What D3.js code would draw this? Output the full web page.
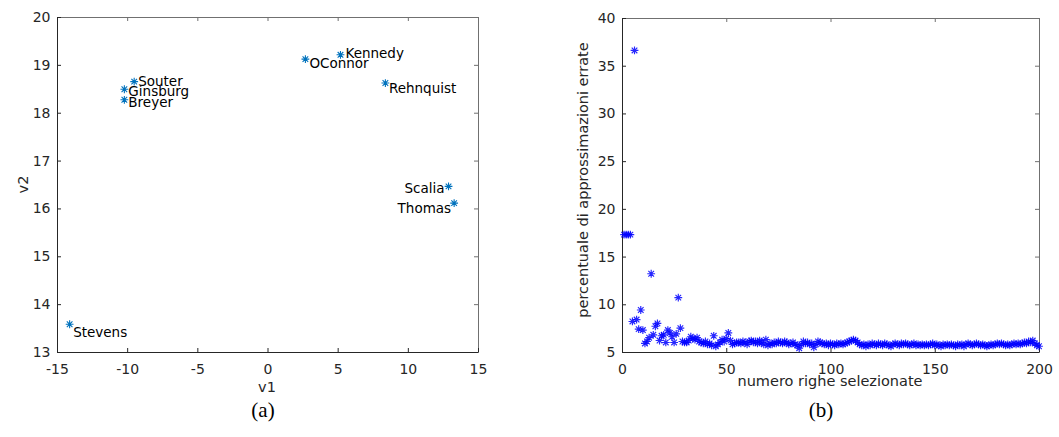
<!DOCTYPE html>
<html>
<head>
<meta charset="utf-8">
<script src="https://cdn.jsdelivr.net/npm/d3@7"></script>
<style>
  body { margin: 0; background: #fff; }
  svg { display: block; }
</style>
</head>
<body>
<div id="chart"></div>
<script>
// (a) MDS of the justices
const justices = ["Souter", "Ginsburg", "Breyer", "OConnor", "Kennedy", "Rehnquist", "Scalia", "Thomas", "Stevens"];
const v1 = [-9.5, -10.2, -10.2, 2.7, 5.2, 8.4, 12.9, 13.3, -14.1];
const v2 = [18.65, 18.49, 18.27, 19.12, 19.21, 18.62, 16.46, 16.11, 13.58];
const v1Ticks = [-15, -10, -5, 0, 5, 10, 15];
const v2Ticks = [13, 14, 15, 16, 17, 18, 19, 20];

// (b) error percentage vs number of selected rows
const rowsSelected = d3.range(1, 201);
const errPct = [
  17.3, 17.3, 17.3, 17.3, 8.2, 36.6, 8.4, 7.4, 9.4, 7.3,
  5.9, 6.1, 6.5, 13.2, 6.8, 7.7, 8.0, 6.2, 6.7, 6.8,
  6.0, 7.3, 7.0, 6.6, 6.0, 6.9, 10.7, 7.5, 6.1, 6.0,
  6.0, 6.2, 6.6, 6.4, 6.3, 6.5, 6.1, 6.0, 5.9, 6.1,
  5.8, 5.9, 5.7, 6.7, 5.6, 5.8, 6.0, 6.3, 6.1, 6.4,
  7.0, 6.2, 5.8, 5.9, 6.0,
  6.0, 5.9, 6.1, 6.0, 5.8, 6.1, 6.2, 6.0, 6.1, 5.9,
  6.2, 6.0, 5.8, 6.3, 5.7, 5.9, 5.8, 6.0, 5.9, 6.1,
  6.0, 5.9, 6.1, 6.0, 5.8, 5.9, 6.0, 5.8, 5.7, 5.4,
  5.8, 6.1, 5.9, 6.0, 5.8, 5.9, 5.5, 5.8, 6.1, 6.0,
  5.9, 5.8, 5.9, 5.7, 5.9, 5.8, 5.7, 5.9, 5.8, 5.9,
  5.8, 5.9, 6.0, 6.1, 6.2, 6.3, 6.2, 6.0, 5.8, 5.7,
  5.8, 5.6, 5.8, 5.7, 5.9, 5.8, 5.7, 5.9, 5.8, 5.7,
  5.9, 5.8, 5.7, 5.6, 5.8, 5.9, 5.8, 5.7, 5.9, 5.8,
  5.9, 5.8, 5.7, 5.8, 5.9, 5.7, 5.8, 5.7, 5.8, 5.7,
  5.8, 5.7, 5.8, 5.9, 5.7, 5.8, 5.7, 5.6, 5.8, 5.7,
  5.8, 5.7, 5.8, 5.7, 5.6, 5.8, 5.7, 5.8, 5.6, 5.8,
  5.9, 5.8, 5.7, 5.8, 5.9, 5.8, 5.7, 5.8, 5.7, 5.6,
  5.7, 5.8, 5.7, 5.8, 5.9, 5.8, 5.9, 5.8, 5.7, 5.8,
  5.7, 5.8, 5.9, 5.8, 5.9, 5.8, 5.9, 6.0, 5.9, 6.1,
  6.0, 6.2, 5.9, 5.7, 5.6
];
const rowTicks = [0, 50, 100, 150, 200];
const pctTicks = [5, 10, 15, 20, 25, 30, 35, 40];

const W = 1059, H = 437;
const ink = "#262626";
const boxInk = "#707070";
const sans = "'DejaVu Sans', sans-serif";

const svg = d3.select("#chart").append("svg")
  .attr("width", W).attr("height", H)
  .style("background", "#fff");

function starPath(r) {
  const d = r * 0.72;
  return `M${-r},0H${r}M0,${-r}V${r}M${-d},${-d}L${d},${d}M${-d},${d}L${d},${-d}`;
}

// MATLAB-like box with inward ticks on all four sides
function frame(x, y, xTicks, yTicks) {
  const [x0, x1] = x.range();
  const [yb, yt] = y.range();
  const fmt = (d) => String(d);

  const styleAxis = (g, color) => {
    g.attr("font-family", sans).attr("font-size", 14);
    g.selectAll(".domain, .tick line").attr("stroke", color);
    g.selectAll("text").attr("fill", ink);
  };

  svg.append("g").attr("transform", `translate(0,${yt})`)
    .call(d3.axisTop(x).tickValues(xTicks).tickSizeInner(-4).tickSizeOuter(0).tickFormat(""))
    .call((g) => styleAxis(g, boxInk));
  svg.append("g").attr("transform", `translate(${x1},0)`)
    .call(d3.axisRight(y).tickValues(yTicks).tickSizeInner(-4).tickSizeOuter(0).tickFormat(""))
    .call((g) => styleAxis(g, boxInk));
  svg.append("g").attr("transform", `translate(0,${yb})`)
    .call(d3.axisBottom(x).tickValues(xTicks).tickSizeInner(-4).tickSizeOuter(0).tickPadding(12).tickFormat(fmt))
    .call((g) => styleAxis(g, ink));
  svg.append("g").attr("transform", `translate(${x0},0)`)
    .call(d3.axisLeft(y).tickValues(yTicks).tickSizeInner(-4).tickSizeOuter(0).tickPadding(6.5).tickFormat(fmt))
    .call((g) => styleAxis(g, ink));
}

// ---------- (a)
const xA = d3.scaleLinear().domain([-15, 15]).range([57, 478]);
const yA = d3.scaleLinear().domain([13, 20]).range([352, 17]);
frame(xA, yA, v1Ticks, v2Ticks);

const nudge = {
  Souter: [4, 0, "start"],
  Ginsburg: [4, 1.5, "start"],
  Breyer: [4, 2.5, "start"],
  OConnor: [4, 4.5, "start"],
  Kennedy: [5, -2, "start"],
  Rehnquist: [3.5, 5.5, "start"],
  Scalia: [-4, 1.5, "end"],
  Thomas: [-3, 4.5, "end"],
  Stevens: [3.5, 7.5, "start"]
};

const pts = justices.map((name, i) => ({ name, x: v1[i], y: v2[i] }));

svg.append("g")
  .selectAll("path")
  .data(pts)
  .join("path")
  .attr("transform", (d) => `translate(${xA(d.x)},${yA(d.y)})`)
  .attr("d", starPath(3.9))
  .attr("fill", "none")
  .attr("stroke", "#0072BD")
  .attr("stroke-width", 1.1);

svg.append("g")
  .attr("font-family", sans)
  .attr("font-size", 13.5)
  .selectAll("text")
  .data(pts)
  .join("text")
  .attr("x", (d) => xA(d.x) + nudge[d.name][0])
  .attr("y", (d) => yA(d.y) + nudge[d.name][1])
  .attr("dy", "0.36em")
  .attr("text-anchor", (d) => nudge[d.name][2])
  .attr("fill", "#000")
  .text((d) => d.name);

svg.append("text")
  .attr("x", 267).attr("y", 391.5)
  .attr("text-anchor", "middle")
  .attr("font-family", sans).attr("font-size", 14.5).attr("fill", ink)
  .text("v1");
svg.append("text")
  .attr("transform", "translate(28,184.5) rotate(-90)")
  .attr("text-anchor", "middle")
  .attr("font-family", sans).attr("font-size", 14.5).attr("fill", ink)
  .text("v2");

// ---------- (b)
const xB = d3.scaleLinear().domain([0, 200]).range([622, 1039]);
const yB = d3.scaleLinear().domain([5, 40]).range([352, 18]);
frame(xB, yB, rowTicks, pctTicks);

svg.append("g")
  .selectAll("path")
  .data(rowsSelected.map((r, i) => [r, errPct[i]]))
  .join("path")
  .attr("transform", (d) => `translate(${xB(d[0])},${yB(d[1])})`)
  .attr("d", starPath(3.9))
  .attr("fill", "none")
  .attr("stroke", "#0000ff")
  .attr("stroke-opacity", 0.85)
  .attr("stroke-width", 1.15);

svg.append("text")
  .attr("x", 830).attr("y", 385.5)
  .attr("text-anchor", "middle")
  .attr("font-family", sans).attr("font-size", 14.5).attr("fill", ink)
  .text("numero righe selezionate");
svg.append("text")
  .attr("transform", "translate(588,180) rotate(-90)")
  .attr("text-anchor", "middle")
  .attr("font-family", sans).attr("font-size", 14.5).attr("fill", ink)
  .text("percentuale di approssimazioni errate");

// ---------- subfigure captions
const serif = "'Liberation Serif', 'DejaVu Serif', serif";
svg.append("text")
  .attr("x", 263).attr("y", 417)
  .attr("text-anchor", "middle")
  .attr("font-family", serif).attr("font-size", 21).attr("fill", "#000")
  .text("(a)");
svg.append("text")
  .attr("x", 821).attr("y", 417)
  .attr("text-anchor", "middle")
  .attr("font-family", serif).attr("font-size", 21).attr("fill", "#000")
  .text("(b)");
</script>
</body>
</html>
